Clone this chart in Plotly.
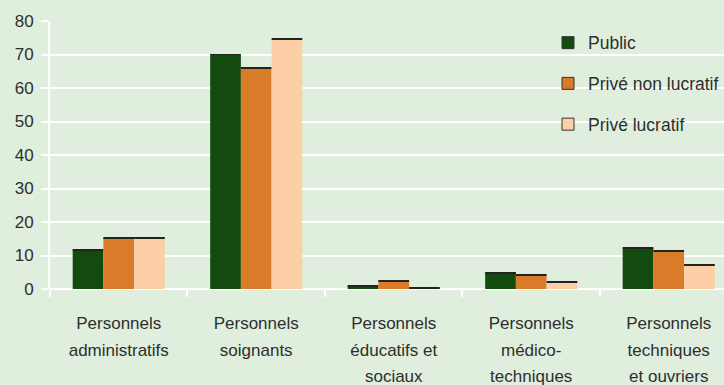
import plotly.graph_objects as go

# Répartition des personnels par statut d'établissement (%)
category_lines = [
    ["Personnels", "administratifs"],
    ["Personnels", "soignants"],
    ["Personnels", "éducatifs et", "sociaux"],
    ["Personnels", "médico-", "techniques"],
    ["Personnels", "techniques", "et ouvriers"],
]
public = [11.7, 70.0, 1.0, 4.9, 12.1]
prive_non_lucratif = [15.2, 66.0, 2.5, 4.2, 11.2]
prive_lucratif = [15.2, 74.6, 0.4, 2.1, 7.2]
y_ticks = [0, 10, 20, 30, 40, 50, 60, 70, 80]

series = [
    ("Public", public, "#134a0e"),
    ("Privé non lucratif", prive_non_lucratif, "#d97b28"),
    ("Privé lucratif", prive_lucratif, "#fdcfa6"),
]

BG = "#dfeedd"
TXT = "#2e2e2e"
FONT = "Liberation Sans, Arial, sans-serif"
TOP_EDGE = 0.3  # thickness of the dark cap on each bar, in axis units

categories = ["<br>".join(lines) for lines in category_lines]
# labels are drawn a little smaller than the line pitch of the tick font
tick_text = [
    "<br>".join(f"<span style='font-size:17px'>{ln}</span>" for ln in lines)
    for lines in category_lines
]

fig = go.Figure()
for i, (name, vals, color) in enumerate(series):
    grp = str(i)
    fig.add_trace(go.Bar(
        x=categories, y=vals, name=name, offsetgroup=grp,
        marker=dict(color=color, line=dict(width=0)),
        showlegend=False, hoverinfo="skip",
    ))
    # thin dark cap along the top of each bar
    fig.add_trace(go.Bar(
        x=categories, y=[TOP_EDGE] * len(vals),
        base=[v - TOP_EDGE / 2 for v in vals], offsetgroup=grp,
        marker=dict(color="#222222", line=dict(width=0)),
        showlegend=False, hoverinfo="skip",
    ))
    # legend swatch with an outline
    fig.add_trace(go.Bar(
        x=[None], y=[None], name=name, offsetgroup=grp,
        marker=dict(color=color, line=dict(width=1, color="#333333")),
        legendgroup=grp, showlegend=True,
    ))

fig.update_layout(
    width=724, height=385,
    margin=dict(l=50, r=0, t=21, b=96),
    paper_bgcolor=BG, plot_bgcolor=BG,
    barmode="group", bargap=0.33, bargroupgap=0,
    font=dict(family=FONT, size=17, color=TXT),
    legend=dict(
        x=0.739, y=0.986, xanchor="left", yanchor="top",
        bgcolor="rgba(0,0,0,0)", tracegroupgap=15,
        font=dict(family=FONT, size=17.5, color=TXT),
    ),
)
fig.update_xaxes(
    range=[-0.5, 4.402],
    tickmode="array", tickvals=categories, ticktext=tick_text,
    tickson="boundaries", ticks="outside", ticklen=7, tickwidth=2,
    tickcolor="white", showgrid=False, showline=False, zeroline=False,
    ticklabelstandoff=19,
    tickfont=dict(family=FONT, size=20.4, color=TXT),
)
fig.update_yaxes(
    range=[0, 80], tickvals=y_ticks, ticks="outside", ticklen=7,
    tickwidth=2, tickcolor="white", ticklabelstandoff=4,
    showgrid=True, gridcolor="white", gridwidth=2,
    showline=True, linecolor="white", linewidth=2,
    zeroline=True, zerolinecolor="white", zerolinewidth=2,
    tickfont=dict(family=FONT, size=17, color=TXT),
)

fig.write_html("out.html")
